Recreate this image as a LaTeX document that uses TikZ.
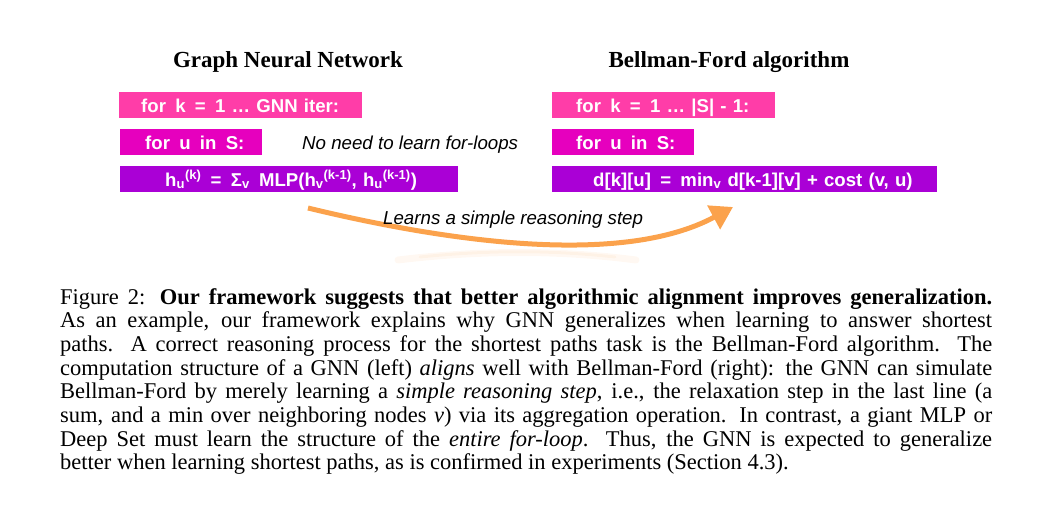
\documentclass[tikz,border=0pt]{standalone}
\usepackage{fontspec}
\setmainfont{Liberation Serif}
\setsansfont{Liberation Sans}
\usepackage{tikz}
\usetikzlibrary{arrows.meta}

\definecolor{loopk}{HTML}{FF3DA8}
\definecolor{loopu}{HTML}{E600BE}
\definecolor{stepc}{HTML}{AA00D6}
\definecolor{arrowc}{HTML}{FBA24C}

\newcommand{\wsp}{\hspace{0.5em}}

\tikzset{
  heading/.style={anchor=base, font=\bfseries\fontsize{23}{26}\selectfont},
  codebox/.style={anchor=north west, inner sep=0pt, text height=20pt, text depth=6pt,
    align=left, text=white, font=\sffamily\bfseries\fontsize{18.6}{20}\selectfont},
  remark/.style={anchor=base west, inner sep=0pt, font=\sffamily\itshape\fontsize{18.7}{20}\selectfont},
  flow/.style={arrowc, line width=5pt, -{Triangle[length=22pt,width=26pt]}},
  glow/.style={arrowc, line width=7pt, opacity=0.07, line cap=round}
}

\begin{document}
\begin{tikzpicture}[x=1pt, y=-1pt]
                    \useasboundingbox (0,0) rectangle (1055,511);
                    \node[heading] (gnntitle) at (288,67) {Graph Neural Network};
                    \node[heading] (bftitle) at (729,67) {Bellman-Ford algorithm};
                    \node[codebox, fill=loopk, text width=243pt] (gnnk) at (119,92) {\hspace*{22pt}for\wsp k\wsp =\wsp 1 … GNN iter:};
                    \node[codebox, fill=loopu, text width=142pt] (gnnu) at (120,129) {\hspace*{25pt}for\wsp u\wsp in\wsp S:};
                    \node[codebox, fill=stepc, text width=338pt] (gnnstep) at (120,166) {\hspace*{45pt}h\textsubscript{u}\textsuperscript{(k)}\wsp =\wsp Σ\textsubscript{v}\wsp MLP(h\textsubscript{v}\textsuperscript{(k-1)}, h\textsubscript{u}\textsuperscript{(k-1)})};
                    \node[codebox, fill=loopk, text width=223pt] (bfk) at (552,92) {\hspace*{24pt}for\wsp k\wsp =\wsp 1 … \textbar S\textbar{} - 1:};
                    \node[codebox, fill=loopu, text width=142pt] (bfu) at (552,129) {\hspace*{24pt}for\wsp u\wsp in\wsp S:};
                    \node[codebox, fill=stepc, text width=385pt] (bfstep) at (552,166) {\hspace*{41pt}d[k][u]\wsp =\wsp min\textsubscript{v} d[k-1][v] + cost (v, u)};
                    \node[remark] (noloops) at (302,149) {No need to learn for-loops};
                    \coordinate (arrstart) at (308,208);
                    \coordinate (arrend) at (733,207);
                    \draw[glow] (398,260) .. controls (480,250) and (560,250) .. (636,260);
                    \draw[glow, line width=3pt] (420,257) .. controls (490,250) and (550,250) .. (615,257);
                    \draw[flow] (arrstart) .. controls (440,240) and (620,268) .. (arrend);
                    \node[remark] (simplestep) at (383,224) {Learns a simple reasoning step};
                    \node[anchor=north west, inner sep=0pt, text width=932pt, align=justify,
                      font=\fontsize{22.5}{23.7}\selectfont] (caption) at (60,288) {%
                      \hyphenpenalty=10000 \tolerance=10000
                      Figure 2: \textbf{Our framework suggests that better algorithmic alignment improves generalization.}\linebreak
                      As an example, our framework explains why GNN generalizes when learning to answer shortest\linebreak
                      paths. A correct reasoning process for the shortest paths task is the Bellman-Ford algorithm. The\linebreak
                      computation structure of a GNN (left) \textit{aligns} well with Bellman-Ford (right): the GNN can simulate\linebreak
                      Bellman-Ford by merely learning a \textit{simple reasoning step}, i.e., the relaxation step in the last line (a\linebreak
                      sum, and a min over neighboring nodes \textit{v}) via its aggregation operation. In contrast, a giant MLP or\linebreak
                      Deep Set must learn the structure of the \textit{entire for-loop}. Thus, the GNN is expected to generalize\linebreak
                      better when learning shortest paths, as is confirmed in experiments (Section 4.3).};
                \end{tikzpicture}
\end{document}
